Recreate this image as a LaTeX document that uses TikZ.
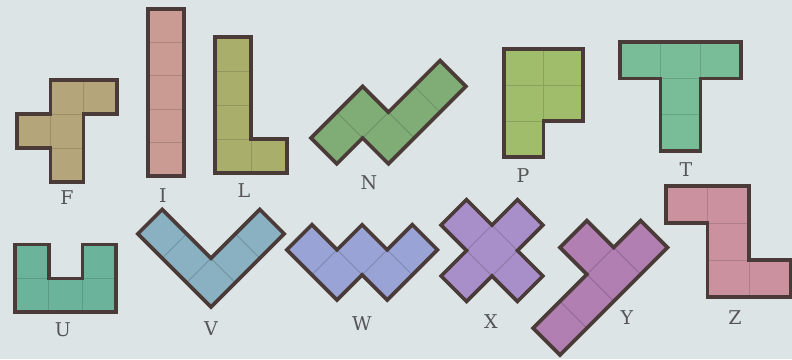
\documentclass[tikz,border=0pt]{standalone}
\usepackage{fontspec}
\setmainfont{DejaVu Serif}
\definecolor{bgc}{HTML}{DCE4E5}
\definecolor{edgec}{HTML}{4A3B38}
\definecolor{txtc}{HTML}{555555}
\definecolor{colF}{HTML}{B5A57A}
\definecolor{colI}{HTML}{C99B93}
\definecolor{colL}{HTML}{AAAE6B}
\definecolor{colN}{HTML}{80AD76}
\definecolor{colP}{HTML}{A0BD6C}
\definecolor{colT}{HTML}{78BC98}
\definecolor{colU}{HTML}{6CB39B}
\definecolor{colV}{HTML}{8AB1C2}
\definecolor{colW}{HTML}{99A3D5}
\definecolor{colX}{HTML}{A98FC9}
\definecolor{colY}{HTML}{B27FB2}
\definecolor{colZ}{HTML}{CC919E}
\tikzset{
  outline/.style={draw=edgec, line width=3.6pt, line join=miter},
  lab/.style={text=txtc, font=\fontsize{19}{20}\selectfont, inner sep=0pt},
}
\newcommand\pento[4]{%
  \begin{scope}[#1]
    \fill[#2] #3 -- cycle;
    \foreach \a/\b in {#4} \draw[#2!86!black, line width=0.8pt] (\a,\b) rectangle ++(1,1);
    \draw[outline] #3 -- cycle;
  \end{scope}}
\begin{document}
\begin{tikzpicture}[x=1pt,y=1pt]
\fill[bgc] (0,0) rectangle (792,-359);
\useasboundingbox (0,0) rectangle (792,-359);
% F
\pento{shift={(17,-182)}, xscale=33.3, yscale=34}{colF}
  {(1,0) -- (2,0) -- (2,2) -- (3,2) -- (3,3) -- (1,3) -- (1,2) -- (0,2) -- (0,1) -- (1,1)}
  {1/0,0/1,1/1,1/2,2/2}
% I
\pento{shift={(148,-176)}, xscale=36, yscale=33.4}{colI}
  {(0,0) -- (1,0) -- (1,5) -- (0,5)}
  {0/0,0/1,0/2,0/3,0/4}
% L
\pento{shift={(215,-173)}, xscale=36, yscale=34}{colL}
  {(0,0) -- (2,0) -- (2,1) -- (1,1) -- (1,4) -- (0,4)}
  {0/0,1/0,0/1,0/2,0/3}
% N
\pento{shift={(311,-138)}, rotate=45, scale=36.5}{colN}
  {(0,0) -- (0,-1) -- (1,-1) -- (1,-2) -- (4,-2) -- (4,-1) -- (2,-1) -- (2,0)}
  {0/-1,1/-1,1/-2,2/-2,3/-2}
% P
\pento{shift={(504,-157)}, xscale=39.5, yscale=36}{colP}
  {(0,0) -- (1,0) -- (1,1) -- (2,1) -- (2,3) -- (0,3)}
  {0/0,0/1,1/1,0/2,1/2}
% T
\pento{shift={(620,-151)}, xscale=40.3, yscale=36.3}{colT}
  {(1,0) -- (2,0) -- (2,2) -- (3,2) -- (3,3) -- (0,3) -- (0,2) -- (1,2)}
  {1/0,1/1,0/2,1/2,2/2}
% U
\pento{shift={(15,-312)}, scale=33.7}{colU}
  {(0,0) -- (3,0) -- (3,2) -- (2,2) -- (2,1) -- (1,1) -- (1,2) -- (0,2)}
  {0/0,1/0,2/0,0/1,2/1}
% V
\pento{shift={(211,-307)}, rotate=45, scale=34.5}{colV}
  {(0,0) -- (3,0) -- (3,1) -- (1,1) -- (1,3) -- (0,3)}
  {0/0,1/0,2/0,0/1,0/2}
% W
\pento{shift={(337,-300)}, rotate=45, scale=35.5}{colW}
  {(0,0) -- (0,2) -- (1,2) -- (1,1) -- (2,1) -- (2,0) -- (3,0) -- (3,-1) -- (1,-1) -- (1,0)}
  {0/0,0/1,1/0,1/-1,2/-1}
% X
\pento{shift={(492,-276)}, rotate=45, scale=36}{colX}
  {(0,-1) -- (1,-1) -- (1,0) -- (2,0) -- (2,1) -- (1,1) -- (1,2) -- (0,2) -- (0,1) -- (-1,1) -- (-1,0) -- (0,0)}
  {0/0,1/0,-1/0,0/1,0/-1}
% Y
\pento{shift={(560,-355)}, rotate=45, scale=38}{colY}
  {(0,0) -- (4,0) -- (4,1) -- (3,1) -- (3,2) -- (2,2) -- (2,1) -- (0,1)}
  {0/0,1/0,2/0,3/0,2/1}
% Z
\pento{shift={(666,-297)}, xscale=41.5, yscale=37}{colZ}
  {(0,3) -- (2,3) -- (2,1) -- (3,1) -- (3,0) -- (1,0) -- (1,2) -- (0,2)}
  {0/2,1/2,1/1,1/0,2/0}
% labels
\node[lab] (labF) at (67,-198) {F};
\node[lab] (labI) at (163,-196) {I};
\node[lab] (labL) at (244,-191) {L};
\node[lab] (labN) at (369,-183) {N};
\node[lab] (labP) at (523,-176) {P};
\node[lab] (labT) at (686,-170) {T};
\node[lab] (labU) at (63,-330) {U};
\node[lab] (labV) at (211,-329) {V};
\node[lab] (labW) at (362,-324) {W};
\node[lab] (labX) at (491,-322) {X};
\node[lab] (labY) at (627,-318) {Y};
\node[lab] (labZ) at (735,-318) {Z};
\end{tikzpicture}
\end{document}
